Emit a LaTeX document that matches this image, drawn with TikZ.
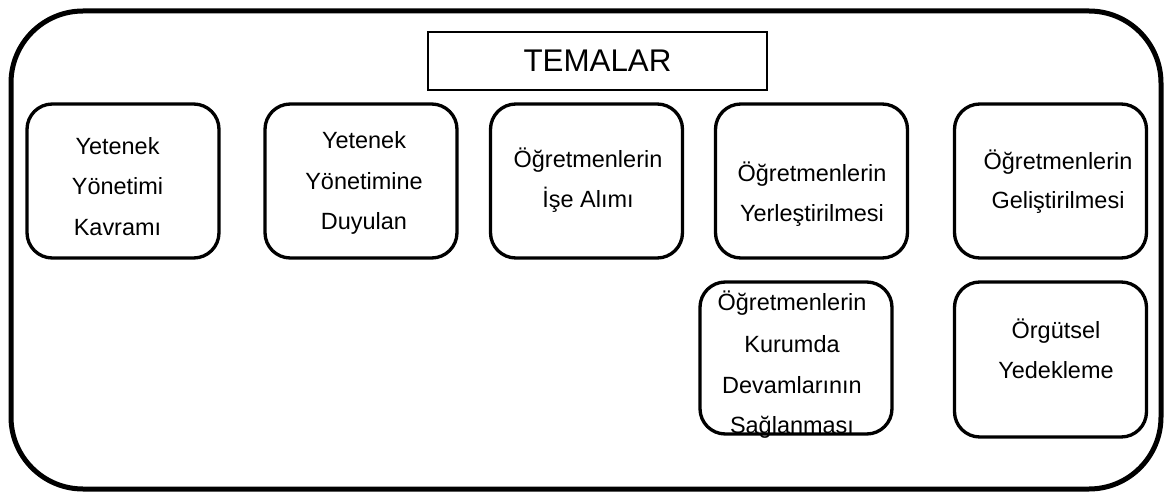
\documentclass[tikz,border=0pt]{standalone}
\usepackage{fontspec}
\setmainfont{Liberation Sans}
\begin{document}
\begin{tikzpicture}[x=0.75pt,y=-0.75pt,
  frame/.style={line width=3.75pt,rounded corners=54pt},
  title/.style={draw,line width=1pt,minimum width=254.25pt,minimum height=43.5pt,inner sep=0pt},
  theme/.style={draw,line width=2.5pt,rounded corners=19pt,minimum width=144pt,minimum height=115.5pt,inner sep=0pt},
  txt/.style={inner sep=0pt,anchor=base,font=\fontsize{17.6}{20}\selectfont},
  big/.style={inner sep=0pt,anchor=base,font=\fontsize{23.5}{28}\selectfont}]
\useasboundingbox (0,0) rectangle (1168,492);
% outer frame
\draw[frame] (11,11) rectangle (1161,489);
% heading
\node[title] (tbox) at (597.5,61) {};
\node[big] (ttext) at (597.5,72) {TEMALAR};
% theme boxes
\node[theme] (b1) at (123,181) {};
\node[theme] (b2) at (361,181) {};
\node[theme] (b3) at (586.5,181) {};
\node[theme] (b4) at (811.5,181) {};
\node[theme] (b5) at (1050.5,181) {};
\node[theme,minimum height=114pt] (b6) at (796,358) {};
\node[theme,minimum height=116.25pt] (b7) at (1050.5,359.5) {};
% box texts
\node[txt] (b1a) at (117.5,154) {Yetenek};
\node[txt] (b1b) at (117.5,195) {Yönetimi};
\node[txt] (b1c) at (117.5,235) {Kavramı};
\node[txt] (b2a) at (364,148) {Yetenek};
\node[txt] (b2b) at (364,189) {Yönetimine};
\node[txt] (b2c) at (364,229) {Duyulan};
\node[txt] (b3a) at (588,167) {Öğretmenlerin};
\node[txt] (b3b) at (588,207) {İşe Alımı};
\node[txt] (b4a) at (812,181) {Öğretmenlerin};
\node[txt] (b4b) at (812,221) {Yerleştirilmesi};
\node[txt] (b5a) at (1058,169) {Öğretmenlerin};
\node[txt] (b5b) at (1058,208) {Geliştirilmesi};
\node[txt] (b6a) at (792,310) {Öğretmenlerin};
\node[txt] (b6b) at (792,352) {Kurumda};
\node[txt] (b6c) at (792,393) {Devamlarının};
\node[txt] (b6d) at (792,433) {Sağlanması};
\node[txt] (b7a) at (1056,338) {Örgütsel};
\node[txt] (b7b) at (1056,378) {Yedekleme};
\end{tikzpicture}
\end{document}
